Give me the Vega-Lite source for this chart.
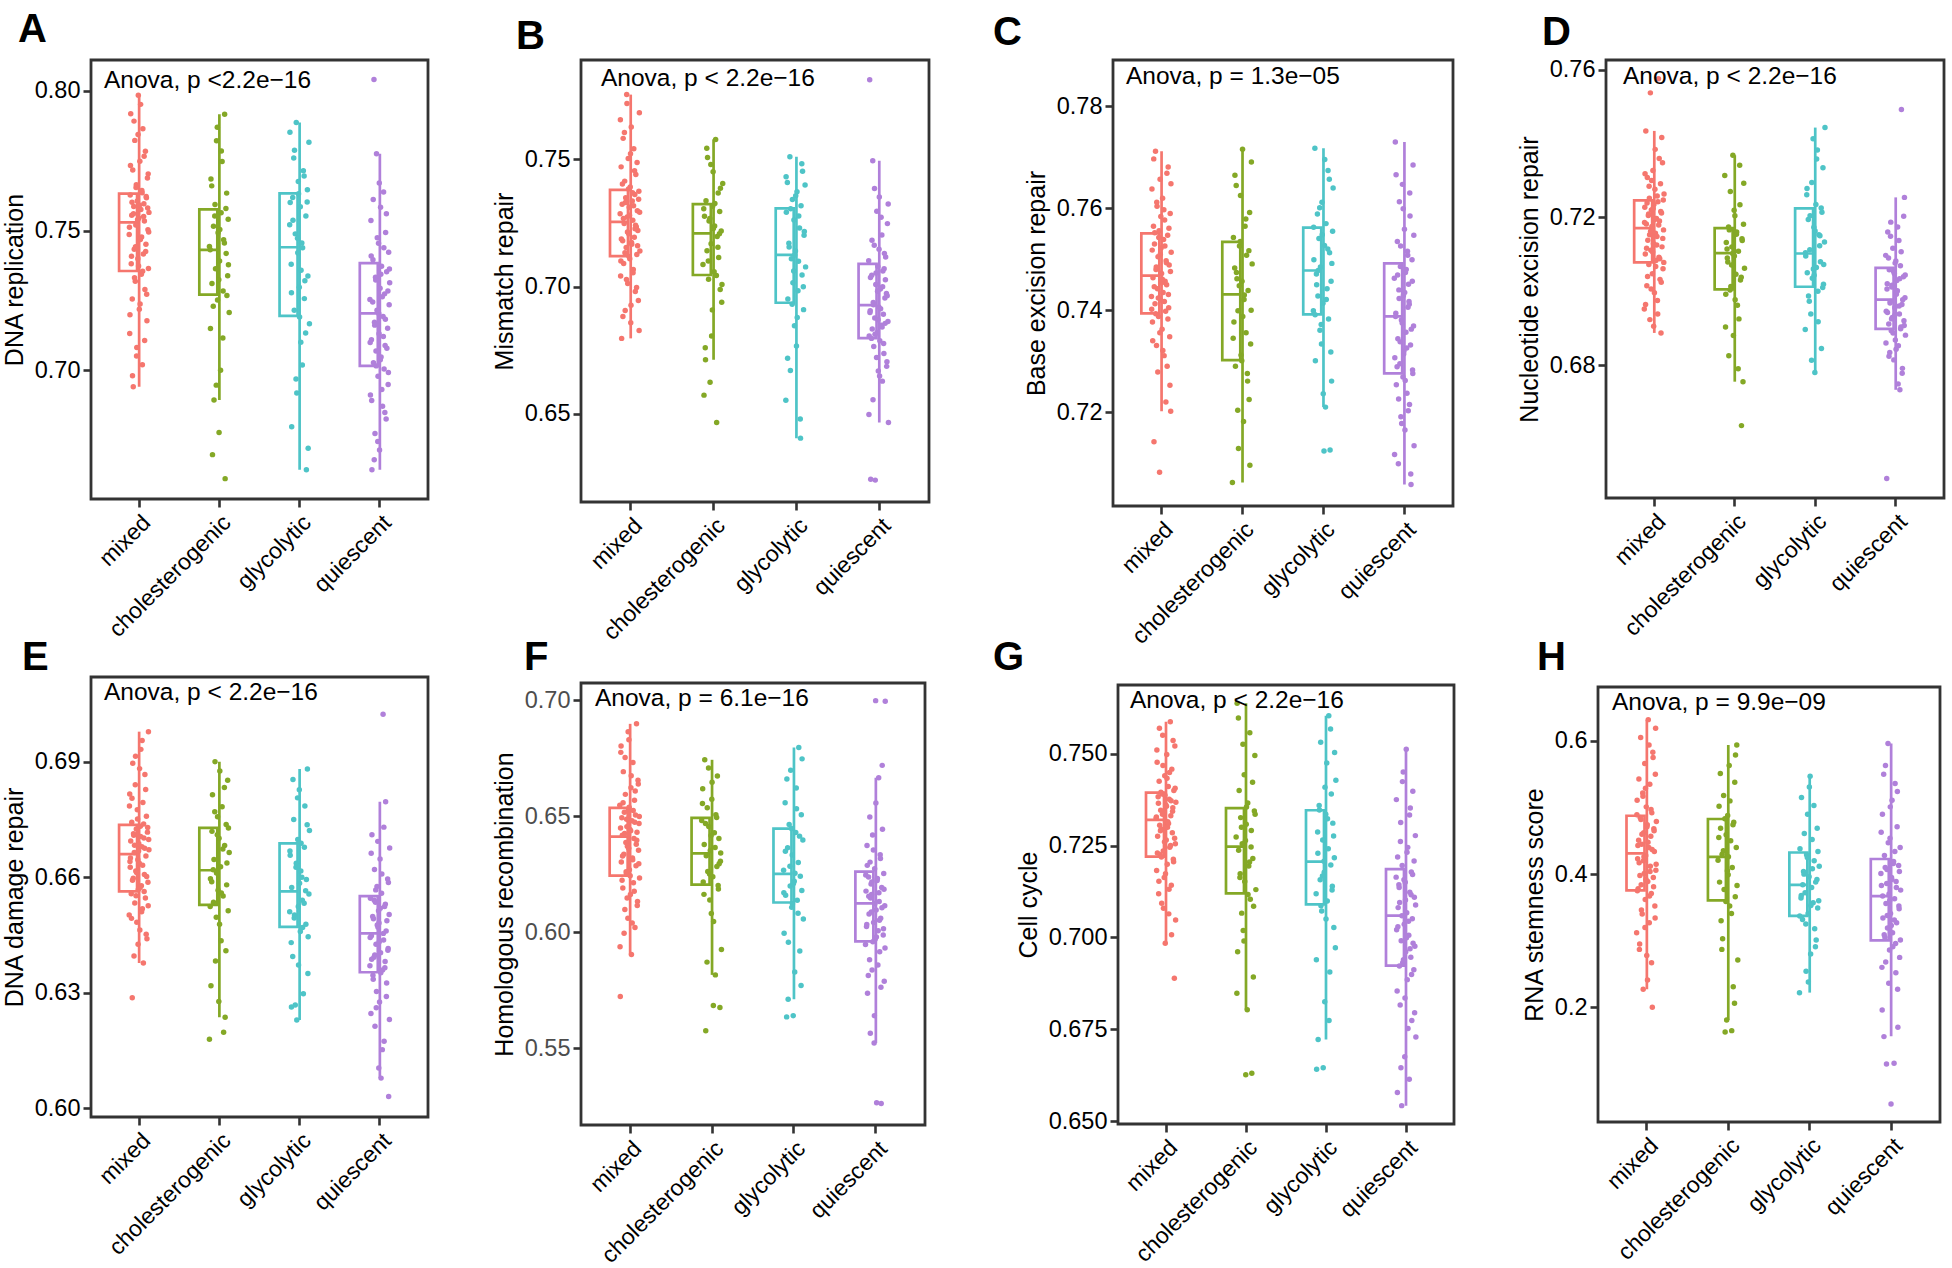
{
"$schema":"https://vega.github.io/schema/vega-lite/v6.json",
"padding":{"left":0,"top":8,"right":4,"bottom":3},
"datasets":{
"b":[
{"p":"A","g":"mixed","lo":0.694,"q1":0.7355,"med":0.7529,"q3":0.7632,"hi":0.7985},
{"p":"A","g":"cholesterogenic","lo":0.6893,"q1":0.727,"med":0.7431,"q3":0.7576,"hi":0.7917},
{"p":"A","g":"glycolytic","lo":0.6643,"q1":0.7194,"med":0.744,"q3":0.7633,"hi":0.7887},
{"p":"A","g":"quiescent","lo":0.6643,"q1":0.7015,"med":0.7203,"q3":0.7383,"hi":0.7775},
{"p":"B","g":"mixed","lo":0.6797,"q1":0.712,"med":0.7255,"q3":0.7381,"hi":0.7755},
{"p":"B","g":"cholesterogenic","lo":0.6713,"q1":0.7046,"med":0.721,"q3":0.7325,"hi":0.7579},
{"p":"B","g":"glycolytic","lo":0.6405,"q1":0.6937,"med":0.7125,"q3":0.7308,"hi":0.7511},
{"p":"B","g":"quiescent","lo":0.6466,"q1":0.6798,"med":0.6928,"q3":0.709,"hi":0.7495},
{"p":"C","g":"mixed","lo":0.7202,"q1":0.7394,"med":0.7468,"q3":0.7551,"hi":0.7712},
{"p":"C","g":"cholesterogenic","lo":0.7062,"q1":0.7302,"med":0.7431,"q3":0.7534,"hi":0.7716},
{"p":"C","g":"glycolytic","lo":0.721,"q1":0.7392,"med":0.7478,"q3":0.7562,"hi":0.7718},
{"p":"C","g":"quiescent","lo":0.7058,"q1":0.7276,"med":0.7388,"q3":0.7492,"hi":0.773},
{"p":"D","g":"mixed","lo":0.6887,"q1":0.7078,"med":0.7171,"q3":0.7246,"hi":0.7434},
{"p":"D","g":"cholesterogenic","lo":0.6755,"q1":0.7005,"med":0.7103,"q3":0.7171,"hi":0.7368},
{"p":"D","g":"glycolytic","lo":0.678,"q1":0.7012,"med":0.7102,"q3":0.7224,"hi":0.7443},
{"p":"D","g":"quiescent","lo":0.6733,"q1":0.6898,"med":0.6977,"q3":0.7063,"hi":0.7254},
{"p":"E","g":"mixed","lo":0.6377,"q1":0.6563,"med":0.666,"q3":0.6736,"hi":0.6978},
{"p":"E","g":"cholesterogenic","lo":0.6236,"q1":0.6528,"med":0.6618,"q3":0.6728,"hi":0.69},
{"p":"E","g":"glycolytic","lo":0.6229,"q1":0.6471,"med":0.6563,"q3":0.6688,"hi":0.6881},
{"p":"E","g":"quiescent","lo":0.6078,"q1":0.6353,"med":0.6454,"q3":0.6551,"hi":0.6796},
{"p":"F","g":"mixed","lo":0.5904,"q1":0.6244,"med":0.6412,"q3":0.6536,"hi":0.6898},
{"p":"F","g":"cholesterogenic","lo":0.5816,"q1":0.6205,"med":0.634,"q3":0.6493,"hi":0.6743},
{"p":"F","g":"glycolytic","lo":0.5711,"q1":0.6128,"med":0.6251,"q3":0.6446,"hi":0.6796},
{"p":"F","g":"quiescent","lo":0.5522,"q1":0.596,"med":0.6124,"q3":0.6261,"hi":0.6666},
{"p":"G","g":"mixed","lo":0.6984,"q1":0.722,"med":0.732,"q3":0.7394,"hi":0.7587},
{"p":"G","g":"cholesterogenic","lo":0.6803,"q1":0.712,"med":0.7247,"q3":0.7352,"hi":0.7637},
{"p":"G","g":"glycolytic","lo":0.6722,"q1":0.709,"med":0.7206,"q3":0.7346,"hi":0.7603},
{"p":"G","g":"quiescent","lo":0.6542,"q1":0.6923,"med":0.7059,"q3":0.7186,"hi":0.7512},
{"p":"H","g":"mixed","lo":0.227,"q1":0.3755,"med":0.4313,"q3":0.4877,"hi":0.6319},
{"p":"H","g":"cholesterogenic","lo":0.181,"q1":0.3607,"med":0.4258,"q3":0.4828,"hi":0.5939},
{"p":"H","g":"glycolytic","lo":0.2221,"q1":0.3374,"med":0.384,"q3":0.4325,"hi":0.5472},
{"p":"H","g":"quiescent","lo":0.1564,"q1":0.3006,"med":0.3669,"q3":0.4227,"hi":0.5963}
],
"s":[
{"g":"mixed","r":1,"A":0.7486,"B":0.7287,"C":0.7427,"D":0.6952,"E":0.6502,"F":0.6547,"G":0.7324,"H":0.312},
{"g":"mixed","r":2,"A":0.7131,"B":0.7042,"C":0.7638,"D":0.7227,"E":0.6816,"F":0.5723,"G":0.7182,"H":0.511},
{"g":"mixed","r":3,"A":0.7627,"B":0.7471,"C":0.7377,"D":0.7101,"E":0.6626,"F":0.6775,"G":0.7477,"H":0.423},
{"g":"mixed","r":4,"A":0.7918,"B":0.6797,"C":0.7464,"D":0.7434,"E":0.6694,"F":0.6303,"G":0.7275,"H":0.378},
{"g":"mixed","r":5,"A":0.7381,"B":0.7324,"C":0.7565,"D":0.7182,"E":0.6557,"F":0.6493,"G":0.7383,"H":0.451},
{"g":"mixed","r":6,"A":0.7555,"B":0.7181,"C":0.7142,"D":0.7015,"E":0.6743,"F":0.6418,"G":0.7119,"H":0.417},
{"g":"mixed","r":7,"A":0.7255,"B":0.7583,"C":0.753,"D":0.7308,"E":0.6287,"F":0.619,"G":0.7425,"H":0.295},
{"g":"mixed","r":8,"A":0.7717,"B":0.7091,"C":0.7413,"D":0.7138,"E":0.6896,"F":0.6692,"G":0.7305,"H":0.485},
{"g":"mixed","r":9,"A":0.694,"B":0.7248,"C":0.7712,"D":0.7205,"E":0.6597,"F":0.6336,"G":0.7225,"H":0.605},
{"g":"mixed","r":10,"A":0.7586,"B":0.7415,"C":0.748,"D":0.7072,"E":0.6709,"F":0.6517,"G":0.7346,"H":0.384},
{"g":"mixed","r":11,"A":0.7433,"B":0.6907,"C":0.7331,"D":0.7252,"E":0.6664,"F":0.6098,"G":0.7295,"H":0.445},
{"g":"mixed","r":12,"A":0.7823,"B":0.735,"C":0.7604,"D":0.6923,"E":0.6533,"F":0.6594,"G":0.7093,"H":0.34},
{"g":"mixed","r":13,"A":0.7318,"B":0.7154,"C":0.7442,"D":0.7537,"E":0.684,"F":0.6387,"G":0.739,"H":0.522},
{"g":"mixed","r":14,"A":0.752,"B":0.7755,"C":0.7505,"D":0.7111,"E":0.6616,"F":0.6252,"G":0.755,"H":0.227},
{"g":"mixed","r":15,"A":0.7664,"B":0.7274,"C":0.7388,"D":0.722,"E":0.6725,"F":0.6455,"G":0.7235,"H":0.462},
{"g":"mixed","r":16,"A":0.7081,"B":0.7013,"C":0.7556,"D":0.7175,"E":0.6483,"F":0.637,"G":0.7339,"H":0.401},
{"g":"mixed","r":17,"A":0.7606,"B":0.7504,"C":0.7082,"D":0.7047,"E":0.6775,"F":0.606,"G":0.7163,"H":0.566},
{"g":"mixed","r":18,"A":0.7399,"B":0.7208,"C":0.7657,"D":0.7327,"E":0.6645,"F":0.653,"G":0.744,"H":0.362},
{"g":"mixed","r":19,"A":0.7985,"B":0.7312,"C":0.742,"D":0.7129,"E":0.6568,"F":0.6829,"G":0.6984,"H":0.428},
{"g":"mixed","r":20,"A":0.7544,"B":0.711,"C":0.7522,"D":0.7235,"E":0.6687,"F":0.6269,"G":0.7361,"H":0.501},
{"g":"mixed","r":21,"A":0.7218,"B":0.7392,"C":0.7472,"D":0.6996,"E":0.6636,"F":0.6443,"G":0.7265,"H":0.278},
{"g":"mixed","r":22,"A":0.7748,"B":0.6858,"C":0.7363,"D":0.7276,"E":0.6463,"F":0.6162,"G":0.7498,"H":0.474},
{"g":"mixed","r":23,"A":0.7468,"B":0.7628,"C":0.762,"D":0.7157,"E":0.6732,"F":0.6623,"G":0.7199,"H":0.389},
{"g":"mixed","r":24,"A":0.7575,"B":0.7167,"C":0.7435,"D":0.7083,"E":0.6932,"F":0.5904,"G":0.7315,"H":0.632},
{"g":"mixed","r":25,"A":0.7343,"B":0.7337,"C":0.7539,"D":0.7197,"E":0.6578,"F":0.648,"G":0.7411,"H":0.44},
{"g":"mixed","r":26,"A":0.7643,"B":0.7261,"C":0.7311,"D":0.7148,"E":0.6679,"F":0.632,"G":0.7064,"H":0.327},
{"g":"mixed","r":27,"A":0.7019,"B":0.7068,"C":0.7577,"D":0.6975,"E":0.6518,"F":0.6731,"G":0.7376,"H":0.535},
{"g":"mixed","r":28,"A":0.7865,"B":0.7542,"C":0.7457,"D":0.7242,"E":0.6794,"F":0.6213,"G":0.7245,"H":0.412},
{"g":"mixed","r":29,"A":0.7416,"B":0.7194,"C":0.7398,"D":0.7575,"E":0.6377,"F":0.6404,"G":0.7587,"H":0.457},
{"g":"mixed","r":30,"A":0.7596,"B":0.7362,"C":0.7497,"D":0.7092,"E":0.6702,"F":0.6569,"G":0.7331,"H":0.371},
{"g":"mixed","r":31,"A":0.7534,"B":0.6981,"C":0.745,"D":0.719,"E":0.6607,"F":0.602,"G":0.7142,"H":0.492},
{"g":"mixed","r":32,"A":0.7289,"B":0.7441,"C":0.729,"D":0.7032,"E":0.6867,"F":0.6505,"G":0.7458,"H":0.2},
{"g":"mixed","r":33,"A":0.7784,"B":0.7235,"C":0.7547,"D":0.7291,"E":0.6546,"F":0.6286,"G":0.7285,"H":0.583},
{"g":"mixed","r":34,"A":0.7451,"B":0.7127,"C":0.7681,"D":0.6887,"E":0.6655,"F":0.6898,"G":0.7353,"H":0.395},
{"g":"mixed","r":35,"A":0.7617,"B":0.7299,"C":0.7405,"D":0.7212,"E":0.6758,"F":0.6431,"G":0.7213,"H":0.468},
{"g":"mixed","r":36,"A":0.7177,"B":0.7221,"C":0.7489,"D":0.712,"E":0.644,"F":0.6132,"G":0.74,"H":0.434},
{"g":"mixed","r":37,"A":0.7688,"B":0.6946,"C":0.7348,"D":0.7348,"E":0.6717,"F":0.6655,"G":0.6889,"H":0.352},
{"g":"mixed","r":38,"A":0.7503,"B":0.7375,"C":0.759,"D":0.7061,"E":0.6587,"F":0.6353,"G":0.7521,"H":0.55},
{"g":"mixed","r":39,"A":0.7364,"B":0.7684,"C":0.7202,"D":0.7166,"E":0.6978,"F":0.6468,"G":0.7255,"H":0.406},
{"g":"mixed","r":40,"A":0.7565,"B":0.714,"C":0.7514,"D":0.7263,"E":0.6671,"F":0.6234,"G":0.7368,"H":0.479},
{"g":"mixed","r":1.5,"A":0.7512,"B":0.7656,"C":0.7402,"D":0.7186,"E":0.6785,"F":0.5937,"G":0.7328,"H":0.489},
{"g":"mixed","r":2.5,"A":0.7198,"B":0.7101,"C":0.7518,"D":0.7318,"E":0.6641,"F":0.6449,"G":0.751,"H":0.375},
{"g":"mixed","r":3.5,"A":0.7733,"B":0.7188,"C":0.734,"D":0.6964,"E":0.665,"F":0.6802,"G":0.723,"H":0.443},
{"g":"mixed","r":5.5,"A":0.7408,"B":0.7404,"C":0.7697,"D":0.7116,"E":0.6493,"F":0.6224,"G":0.7365,"H":0.543},
{"g":"mixed","r":6.5,"A":0.7601,"B":0.6883,"C":0.7446,"D":0.7239,"E":0.6805,"F":0.6328,"G":0.7153,"H":0.287},
{"g":"mixed","r":7.5,"A":0.698,"B":0.7268,"C":0.7552,"D":0.704,"E":0.6592,"F":0.6558,"G":0.7569,"H":0.398},
{"g":"mixed","r":9.5,"A":0.756,"B":0.7606,"C":0.7393,"D":0.7209,"E":0.6713,"F":0.5995,"G":0.729,"H":0.482},
{"g":"mixed","r":10.5,"A":0.7892,"B":0.7134,"C":0.7485,"D":0.7284,"E":0.6395,"F":0.6425,"G":0.7395,"H":0.346},
{"g":"mixed","r":11.5,"A":0.7331,"B":0.7331,"C":0.7612,"D":0.7153,"E":0.6683,"F":0.6753,"G":0.7219,"H":0.46},
{"g":"mixed","r":13.5,"A":0.7442,"B":0.7028,"C":0.7279,"D":0.7162,"E":0.6914,"F":0.6261,"G":0.7335,"H":0.517},
{"g":"mixed","r":14.5,"A":0.7654,"B":0.772,"C":0.7424,"D":0.7006,"E":0.6552,"F":0.6487,"G":0.7468,"H":0.42},
{"g":"mixed","r":15.5,"A":0.705,"B":0.7215,"C":0.7543,"D":0.73,"E":0.6612,"F":0.6147,"G":0.7079,"H":0.426},
{"g":"mixed","r":17.5,"A":0.7539,"B":0.7384,"C":0.7356,"D":0.7106,"E":0.6751,"F":0.6864,"G":0.726,"H":0.32},
{"g":"mixed","r":18.5,"A":0.7844,"B":0.7119,"C":0.751,"D":0.7224,"E":0.6426,"F":0.6362,"G":0.7387,"H":0.529},
{"g":"mixed","r":19.5,"A":0.7373,"B":0.7281,"C":0.7584,"D":0.6905,"E":0.6668,"F":0.6539,"G":0.7173,"H":0.392},
{"g":"mixed","r":21.5,"A":0.7591,"B":0.7523,"C":0.7454,"D":0.7194,"E":0.6882,"F":0.6243,"G":0.7357,"H":0.471},
{"g":"mixed","r":22.5,"A":0.7237,"B":0.6927,"C":0.7461,"D":0.7384,"E":0.6573,"F":0.6437,"G":0.7433,"H":0.241},
{"g":"mixed","r":23.5,"A":0.7952,"B":0.7174,"C":0.7321,"D":0.7067,"E":0.6706,"F":0.6674,"G":0.73,"H":0.448},
{"g":"mixed","r":25.5,"A":0.7477,"B":0.7369,"C":0.7597,"D":0.7125,"E":0.651,"F":0.604,"G":0.731,"H":0.594},
{"g":"mixed","r":26.5,"A":0.7635,"B":0.7055,"C":0.7417,"D":0.7258,"E":0.6955,"F":0.6312,"G":0.7131,"H":0.367},
{"g":"mixed","r":27.5,"A":0.7354,"B":0.7318,"C":0.7526,"D":0.6938,"E":0.6631,"F":0.6524,"G":0.7449,"H":0.404},
{"g":"mixed","r":29.5,"A":0.755,"B":0.7456,"C":0.722,"D":0.7179,"E":0.6738,"F":0.6176,"G":0.725,"H":0.497},
{"g":"mixed","r":30.5,"A":0.7766,"B":0.7228,"C":0.7493,"D":0.7359,"E":0.6563,"F":0.6474,"G":0.7372,"H":0.267},
{"g":"mixed","r":31.5,"A":0.7106,"B":0.7242,"C":0.7669,"D":0.7088,"E":0.6675,"F":0.6609,"G":0.7007,"H":0.437},
{"g":"mixed","r":33.5,"A":0.7425,"B":0.6997,"C":0.7383,"D":0.7216,"E":0.6828,"F":0.6379,"G":0.7343,"H":0.575},
{"g":"mixed","r":34.5,"A":0.7622,"B":0.7488,"C":0.7431,"D":0.7024,"E":0.6452,"F":0.6396,"G":0.7536,"H":0.381},
{"g":"mixed","r":35.5,"A":0.7272,"B":0.7161,"C":0.7561,"D":0.7416,"E":0.6602,"F":0.6115,"G":0.7206,"H":0.465},
{"g":"mixed","r":37.5,"A":0.7581,"B":0.7344,"C":0.7253,"D":0.7143,"E":0.6729,"F":0.6639,"G":0.727,"H":0.334},
{"g":"mixed","r":38.5,"A":0.7703,"B":0.6828,"C":0.7476,"D":0.7247,"E":0.6526,"F":0.6295,"G":0.7406,"H":0.619},
{"g":"mixed","r":39.5,"A":0.7495,"B":0.7293,"C":0.7648,"D":0.7078,"E":0.6698,"F":0.6499,"G":0.7047,"H":0.415},
{"g":"cholesterogenic","r":1,"A":0.7443,"B":0.7087,"C":0.7062,"D":0.7313,"E":0.6179,"F":0.6481,"G":0.7273,"H":0.421},
{"g":"cholesterogenic","r":3,"A":0.7149,"B":0.6574,"C":0.7543,"D":0.6992,"E":0.6596,"F":0.6618,"G":0.7637,"H":0.502},
{"g":"cholesterogenic","r":4,"A":0.7685,"B":0.7277,"C":0.7377,"D":0.7132,"E":0.6318,"F":0.6216,"G":0.6961,"H":0.388},
{"g":"cholesterogenic","r":6,"A":0.731,"B":0.6713,"C":0.7665,"D":0.709,"E":0.6719,"F":0.6378,"G":0.7237,"H":0.469},
{"g":"cholesterogenic","r":7,"A":0.6697,"B":0.7338,"C":0.729,"D":0.7079,"E":0.6814,"F":0.6743,"G":0.74,"H":0.33},
{"g":"cholesterogenic","r":9,"A":0.7515,"B":0.7141,"C":0.7474,"D":0.6825,"E":0.6535,"F":0.5575,"G":0.7173,"H":0.43},
{"g":"cholesterogenic","r":10,"A":0.6893,"B":0.7508,"C":0.7462,"D":0.7166,"E":0.6646,"F":0.6329,"G":0.7326,"H":0.303},
{"g":"cholesterogenic","r":12,"A":0.7593,"B":0.7029,"C":0.7399,"D":0.727,"E":0.69,"F":0.6536,"G":0.7066,"H":0.518},
{"g":"cholesterogenic","r":13,"A":0.7363,"B":0.7258,"C":0.7129,"D":0.7013,"E":0.6382,"F":0.6262,"G":0.7255,"H":0.377},
{"g":"cholesterogenic","r":15,"A":0.7822,"B":0.6625,"C":0.7526,"D":0.712,"E":0.6611,"F":0.6455,"G":0.7019,"H":0.163},
{"g":"cholesterogenic","r":17,"A":0.7251,"B":0.7169,"C":0.7625,"D":0.7368,"E":0.6757,"F":0.6139,"G":0.7443,"H":0.459},
{"g":"cholesterogenic","r":18,"A":0.7492,"B":0.6806,"C":0.7312,"D":0.688,"E":0.6566,"F":0.6352,"G":0.7152,"H":0.181},
{"g":"cholesterogenic","r":20,"A":0.6776,"B":0.7316,"C":0.7457,"D":0.7095,"E":0.6701,"F":0.6081,"G":0.6626,"H":0.488},
{"g":"cholesterogenic","r":21,"A":0.7391,"B":0.7452,"C":0.7716,"D":0.7204,"E":0.6478,"F":0.6573,"G":0.7308,"H":0.399},
{"g":"cholesterogenic","r":23,"A":0.6999,"B":0.7059,"C":0.7182,"D":0.7046,"E":0.6627,"F":0.6239,"G":0.6803,"H":0.563},
{"g":"cholesterogenic","r":24,"A":0.7564,"B":0.7239,"C":0.7421,"D":0.7154,"E":0.6435,"F":0.5684,"G":0.7366,"H":0.352},
{"g":"cholesterogenic","r":26,"A":0.7747,"B":0.7579,"C":0.7565,"D":0.6962,"E":0.6783,"F":0.6429,"G":0.7194,"H":0.45},
{"g":"cholesterogenic","r":28,"A":0.7283,"B":0.6466,"C":0.7356,"D":0.7108,"E":0.6551,"F":0.5816,"G":0.7557,"H":0.165},
{"g":"cholesterogenic","r":29,"A":0.7467,"B":0.7197,"C":0.7508,"D":0.6925,"E":0.6197,"F":0.6506,"G":0.7104,"H":0.41},
{"g":"cholesterogenic","r":31,"A":0.7917,"B":0.7368,"C":0.7261,"D":0.7234,"E":0.6682,"F":0.6283,"G":0.7291,"H":0.231},
{"g":"cholesterogenic","r":32,"A":0.6611,"B":0.7115,"C":0.7439,"D":0.703,"E":0.6236,"F":0.6673,"G":0.663,"H":0.478},
{"g":"cholesterogenic","r":34,"A":0.7418,"B":0.7296,"C":0.7225,"D":0.6636,"E":0.6737,"F":0.6186,"G":0.7215,"H":0.538},
{"g":"cholesterogenic","r":35,"A":0.7634,"B":0.6989,"C":0.7592,"D":0.7142,"E":0.658,"F":0.6404,"G":0.6892,"H":0.366},
{"g":"cholesterogenic","r":37,"A":0.7338,"B":0.7219,"C":0.7334,"D":0.6755,"E":0.6852,"F":0.5675,"G":0.7344,"H":0.44},
{"g":"cholesterogenic","r":38,"A":0.754,"B":0.6939,"C":0.74,"D":0.7181,"E":0.6513,"F":0.6306,"G":0.7495,"H":0.594},
{"g":"cholesterogenic","r":40,"A":0.7206,"B":0.7406,"C":0.7491,"D":0.7062,"E":0.6664,"F":0.5925,"G":0.713,"H":0.271},
{"g":"cholesterogenic","r":2.5,"A":0.7431,"B":0.7306,"C":0.7345,"D":0.6903,"E":0.6524,"F":0.6555,"G":0.6848,"H":0.455},
{"g":"cholesterogenic","r":5.5,"A":0.766,"B":0.676,"C":0.7483,"D":0.7114,"E":0.6588,"F":0.6163,"G":0.7597,"H":0.551},
{"g":"cholesterogenic","r":8.5,"A":0.7229,"B":0.7544,"C":0.7645,"D":0.7174,"E":0.6619,"F":0.6468,"G":0.7163,"H":0.287},
{"g":"cholesterogenic","r":11.5,"A":0.7552,"B":0.7101,"C":0.7204,"D":0.7003,"E":0.677,"F":0.5871,"G":0.73,"H":0.435},
{"g":"cholesterogenic","r":14.5,"A":0.6946,"B":0.7268,"C":0.7448,"D":0.7071,"E":0.6496,"F":0.6708,"G":0.7526,"H":0.483},
{"g":"cholesterogenic","r":16.5,"A":0.787,"B":0.748,"C":0.7535,"D":0.7102,"E":0.671,"F":0.6251,"G":0.699,"H":0.359},
{"g":"cholesterogenic","r":19.5,"A":0.7324,"B":0.6909,"C":0.7301,"D":0.7219,"E":0.6277,"F":0.6417,"G":0.7264,"H":0.405},
{"g":"cholesterogenic","r":21.5,"A":0.7504,"B":0.7229,"C":0.7388,"D":0.6977,"E":0.6876,"F":0.6646,"G":0.7355,"H":0.426},
{"g":"cholesterogenic","r":24.5,"A":0.7785,"B":0.7327,"C":0.743,"D":0.716,"E":0.6559,"F":0.6046,"G":0.7117,"H":0.51},
{"g":"cholesterogenic","r":27.5,"A":0.7115,"B":0.7044,"C":0.7579,"D":0.679,"E":0.6673,"F":0.6365,"G":0.7205,"H":0.341},
{"g":"cholesterogenic","r":30.5,"A":0.7455,"B":0.7155,"C":0.7276,"D":0.7341,"E":0.6833,"F":0.6494,"G":0.7246,"H":0.474},
{"g":"cholesterogenic","r":33.5,"A":0.7579,"B":0.7208,"C":0.7517,"D":0.7038,"E":0.6409,"F":0.6201,"G":0.7422,"H":0.206},
{"g":"cholesterogenic","r":35.5,"A":0.7267,"B":0.7387,"C":0.7096,"D":0.7137,"E":0.6637,"F":0.6295,"G":0.7085,"H":0.579},
{"g":"cholesterogenic","r":38.5,"A":0.7377,"B":0.7009,"C":0.7691,"D":0.7292,"E":0.6728,"F":0.6341,"G":0.7335,"H":0.383},
{"g":"glycolytic","r":1,"A":0.7521,"B":0.6554,"C":0.7399,"D":0.6896,"E":0.651,"F":0.6267,"G":0.7119,"H":0.222},
{"g":"glycolytic","r":2,"A":0.76,"B":0.7293,"C":0.7499,"D":0.7095,"E":0.6657,"F":0.5995,"G":0.6641,"H":0.438},
{"g":"glycolytic","r":4,"A":0.7379,"B":0.741,"C":0.7718,"D":0.7261,"E":0.643,"F":0.6558,"G":0.7287,"H":0.364},
{"g":"glycolytic","r":5,"A":0.6797,"B":0.6952,"C":0.7301,"D":0.705,"E":0.6573,"F":0.6159,"G":0.6722,"H":0.515},
{"g":"glycolytic","r":7,"A":0.7618,"B":0.7171,"C":0.7471,"D":0.7194,"E":0.6394,"F":0.5635,"G":0.7359,"H":0.332},
{"g":"glycolytic","r":9,"A":0.776,"B":0.7511,"C":0.7589,"D":0.6973,"E":0.675,"F":0.6364,"G":0.7157,"H":0.404},
{"g":"glycolytic","r":10,"A":0.7214,"B":0.6671,"C":0.7428,"D":0.7112,"E":0.6494,"F":0.5711,"G":0.7531,"H":0.4},
{"g":"glycolytic","r":12,"A":0.7488,"B":0.711,"C":0.7541,"D":0.6938,"E":0.6268,"F":0.6464,"G":0.7072,"H":0.372},
{"g":"glycolytic","r":14,"A":0.7887,"B":0.7343,"C":0.7361,"D":0.7294,"E":0.6636,"F":0.6199,"G":0.7265,"H":0.254},
{"g":"glycolytic","r":15,"A":0.6918,"B":0.7016,"C":0.7485,"D":0.7035,"E":0.6229,"F":0.6698,"G":0.6645,"H":0.429},
{"g":"glycolytic","r":17,"A":0.742,"B":0.7262,"C":0.7334,"D":0.706,"E":0.6698,"F":0.6107,"G":0.7177,"H":0.49},
{"g":"glycolytic","r":18,"A":0.7676,"B":0.6847,"C":0.7612,"D":0.7173,"E":0.6524,"F":0.6333,"G":0.6825,"H":0.341},
{"g":"glycolytic","r":20,"A":0.7297,"B":0.714,"C":0.7414,"D":0.678,"E":0.6827,"F":0.564,"G":0.7335,"H":0.396},
{"g":"glycolytic","r":22,"A":0.7585,"B":0.6767,"C":0.7124,"D":0.7235,"E":0.6459,"F":0.622,"G":0.7475,"H":0.547},
{"g":"glycolytic","r":23,"A":0.71,"B":0.7373,"C":0.7527,"D":0.7064,"E":0.6616,"F":0.5828,"G":0.7099,"H":0.28},
{"g":"glycolytic","r":25,"A":0.7455,"B":0.6984,"C":0.721,"D":0.7382,"E":0.66,"F":0.643,"G":0.7241,"H":0.38},
{"g":"glycolytic","r":26,"A":0.7018,"B":0.71,"C":0.757,"D":0.7,"E":0.654,"F":0.6621,"G":0.7603,"H":0.452},
{"g":"glycolytic","r":28,"A":0.7714,"B":0.7231,"C":0.7442,"D":0.7153,"E":0.6297,"F":0.6138,"G":0.6906,"H":0.357},
{"g":"glycolytic","r":30,"A":0.7256,"B":0.6405,"C":0.7674,"D":0.715,"E":0.6678,"F":0.63,"G":0.7197,"H":0.42},
{"g":"glycolytic","r":31,"A":0.732,"B":0.7318,"C":0.7383,"D":0.708,"E":0.6785,"F":0.6796,"G":0.739,"H":0.318},
{"g":"glycolytic","r":33,"A":0.7552,"B":0.7046,"C":0.7513,"D":0.6845,"E":0.6478,"F":0.5919,"G":0.7139,"H":0.388},
{"g":"glycolytic","r":34,"A":0.6643,"B":0.7454,"C":0.7126,"D":0.7214,"E":0.6594,"F":0.6241,"G":0.7311,"H":0.301},
{"g":"glycolytic","r":36,"A":0.7646,"B":0.691,"C":0.7457,"D":0.7334,"E":0.6881,"F":0.6506,"G":0.7027,"H":0.469},
{"g":"glycolytic","r":37,"A":0.7337,"B":0.7202,"C":0.7261,"D":0.7019,"E":0.635,"F":0.618,"G":0.7217,"H":0.349},
{"g":"glycolytic","r":39,"A":0.7816,"B":0.74,"C":0.7555,"D":0.7133,"E":0.6556,"F":0.6397,"G":0.6972,"H":0.36},
{"g":"glycolytic","r":40,"A":0.7166,"B":0.7078,"C":0.764,"D":0.7443,"E":0.6721,"F":0.6057,"G":0.7428,"H":0.412},
{"g":"glycolytic","r":1.5,"A":0.7852,"B":0.7432,"C":0.7563,"D":0.7104,"E":0.6668,"F":0.617,"G":0.6939,"H":0.337},
{"g":"glycolytic","r":4.5,"A":0.7277,"B":0.6719,"C":0.7391,"D":0.7278,"E":0.6263,"F":0.6349,"G":0.7229,"H":0.368},
{"g":"glycolytic","r":7.5,"A":0.7537,"B":0.7156,"C":0.745,"D":0.6987,"E":0.6854,"F":0.666,"G":0.7347,"H":0.384},
{"g":"glycolytic","r":10.5,"A":0.7788,"B":0.7306,"C":0.7478,"D":0.7204,"E":0.6502,"F":0.5957,"G":0.7086,"H":0.461},
{"g":"glycolytic","r":13.5,"A":0.6968,"B":0.6931,"C":0.7601,"D":0.6813,"E":0.6626,"F":0.6284,"G":0.7167,"H":0.325},
{"g":"glycolytic","r":16.5,"A":0.7472,"B":0.7062,"C":0.7372,"D":0.7413,"E":0.6806,"F":0.6447,"G":0.7207,"H":0.425},
{"g":"glycolytic","r":18.5,"A":0.7632,"B":0.7125,"C":0.7548,"D":0.7043,"E":0.6372,"F":0.6123,"G":0.7409,"H":0.238},
{"g":"glycolytic","r":20.5,"A":0.719,"B":0.7358,"C":0.7236,"D":0.7163,"E":0.6584,"F":0.621,"G":0.705,"H":0.531},
{"g":"glycolytic","r":23.5,"A":0.7358,"B":0.6879,"C":0.7696,"D":0.7358,"E":0.6688,"F":0.6254,"G":0.7323,"H":0.353},
{"g":"glycolytic","r":26.5,"A":0.7438,"B":0.7278,"C":0.7421,"D":0.6917,"E":0.6469,"F":0.6532,"G":0.6774,"H":0.408},
{"g":"glycolytic","r":29.5,"A":0.7695,"B":0.648,"C":0.752,"D":0.7123,"E":0.6532,"F":0.6082,"G":0.7567,"H":0.503},
{"g":"glycolytic","r":32.5,"A":0.7133,"B":0.7483,"C":0.7657,"D":0.7225,"E":0.6565,"F":0.6414,"G":0.7129,"H":0.291},
{"g":"glycolytic","r":35.5,"A":0.7602,"B":0.7,"C":0.7318,"D":0.701,"E":0.6736,"F":0.577,"G":0.7276,"H":0.392},
{"g":"glycolytic","r":37.5,"A":0.672,"B":0.7217,"C":0.7492,"D":0.7072,"E":0.6445,"F":0.6747,"G":0.7503,"H":0.434},
{"g":"quiescent","r":1,"A":0.7253,"B":0.7102,"C":0.7463,"D":0.7097,"E":0.637,"F":0.5947,"G":0.7164,"H":0.401},
{"g":"quiescent","r":2,"A":0.6911,"B":0.6806,"C":0.7307,"D":0.6946,"E":0.6545,"F":0.6177,"G":0.7021,"H":0.383},
{"g":"quiescent","r":3,"A":0.7536,"B":0.7813,"C":0.773,"D":0.6493,"E":0.6246,"F":0.6024,"G":0.6854,"H":0.26},
{"g":"quiescent","r":4,"A":0.7109,"B":0.6906,"C":0.7394,"D":0.702,"E":0.6448,"F":0.6374,"G":0.7219,"H":0.49},
{"g":"quiescent","r":5,"A":0.6643,"B":0.6243,"C":0.7254,"D":0.716,"E":0.671,"F":0.5737,"G":0.7081,"H":0.334},
{"g":"quiescent","r":7,"A":0.7395,"B":0.7045,"C":0.7535,"D":0.6911,"E":0.6345,"F":0.6238,"G":0.7136,"H":0.156},
{"g":"quiescent","r":8,"A":0.7026,"B":0.6834,"C":0.7344,"D":0.7058,"E":0.6492,"F":0.6078,"G":0.7095,"H":0.428},
{"g":"quiescent","r":9,"A":0.8041,"B":0.7495,"C":0.7099,"D":0.6834,"E":0.6392,"F":0.5881,"G":0.6816,"H":0.305},
{"g":"quiescent","r":10,"A":0.7171,"B":0.6938,"C":0.744,"D":0.6972,"E":0.662,"F":0.6302,"G":0.7313,"H":0.563},
{"g":"quiescent","r":11,"A":0.6773,"B":0.6765,"C":0.7613,"D":0.7187,"E":0.6213,"F":0.6147,"G":0.6991,"H":0.356},
{"g":"quiescent","r":12,"A":0.7333,"B":0.7163,"C":0.7295,"D":0.6893,"E":0.6535,"F":0.6208,"G":0.6542,"H":0.115},
{"g":"quiescent","r":13,"A":0.7068,"B":0.6877,"C":0.7486,"D":0.7011,"E":0.6426,"F":0.6162,"G":0.7196,"H":0.407},
{"g":"quiescent","r":14,"A":0.7775,"B":0.624,"C":0.7191,"D":0.6929,"E":0.6303,"F":0.5837,"G":0.6931,"H":0.319},
{"g":"quiescent","r":15,"A":0.7214,"B":0.7009,"C":0.7381,"D":0.7116,"E":0.6576,"F":0.6419,"G":0.745,"H":0.596},
{"g":"quiescent","r":17,"A":0.6978,"B":0.7297,"C":0.7647,"D":0.6814,"E":0.647,"F":0.6042,"G":0.7036,"H":0.37},
{"g":"quiescent","r":18,"A":0.7454,"B":0.682,"C":0.7269,"D":0.7048,"E":0.6513,"F":0.5522,"G":0.6675,"H":0.286},
{"g":"quiescent","r":19,"A":0.713,"B":0.708,"C":0.7429,"D":0.6955,"E":0.6481,"F":0.6273,"G":0.715,"H":0.454},
{"g":"quiescent","r":20,"A":0.6714,"B":0.6669,"C":0.732,"D":0.6868,"E":0.6276,"F":0.597,"G":0.6961,"H":0.341},
{"g":"quiescent","r":21,"A":0.7293,"B":0.692,"C":0.7559,"D":0.7082,"E":0.6647,"F":0.6998,"G":0.7512,"H":0.055},
{"g":"quiescent","r":22,"A":0.7583,"B":0.7353,"C":0.7165,"D":0.6992,"E":0.6404,"F":0.6096,"G":0.7067,"H":0.395},
{"g":"quiescent","r":23,"A":0.7047,"B":0.6788,"C":0.7474,"D":0.7029,"E":0.6078,"F":0.5265,"G":0.6885,"H":0.511},
{"g":"quiescent","r":24,"A":0.7372,"B":0.6991,"C":0.7357,"D":0.7001,"E":0.6558,"F":0.6223,"G":0.7245,"H":0.312},
{"g":"quiescent","r":26,"A":0.687,"B":0.6849,"C":0.7237,"D":0.6852,"E":0.6359,"F":0.6006,"G":0.7006,"H":0.419},
{"g":"quiescent","r":27,"A":0.7192,"B":0.7203,"C":0.7516,"D":0.7137,"E":0.7023,"F":0.6666,"G":0.6614,"H":0.116},
{"g":"quiescent","r":28,"A":0.7638,"B":0.6629,"C":0.7406,"D":0.6938,"E":0.6437,"F":0.6132,"G":0.7123,"H":0.363},
{"g":"quiescent","r":29,"A":0.7004,"B":0.7062,"C":0.7451,"D":0.6733,"E":0.6174,"F":0.5916,"G":0.7352,"H":0.536},
{"g":"quiescent","r":30,"A":0.7273,"B":0.6892,"C":0.7417,"D":0.7069,"E":0.6524,"F":0.6334,"G":0.6946,"H":0.296},
{"g":"quiescent","r":31,"A":0.7088,"B":0.6738,"C":0.7215,"D":0.6903,"E":0.6381,"F":0.606,"G":0.7178,"H":0.389},
{"g":"quiescent","r":32,"A":0.7493,"B":0.7131,"C":0.7585,"D":0.7492,"E":0.6796,"F":0.5262,"G":0.6774,"H":0.327},
{"g":"quiescent","r":33,"A":0.6825,"B":0.6956,"C":0.7332,"D":0.6964,"E":0.646,"F":0.6193,"G":0.7051,"H":0.471},
{"g":"quiescent","r":34,"A":0.7352,"B":0.7027,"C":0.7058,"D":0.6791,"E":0.6325,"F":0.6719,"G":0.7398,"H":0.227},
{"g":"quiescent","r":36,"A":0.715,"B":0.6973,"C":0.7499,"D":0.7039,"E":0.6595,"F":0.5988,"G":0.6912,"H":0.413},
{"g":"quiescent","r":37,"A":0.6948,"B":0.6705,"C":0.7283,"D":0.692,"E":0.6415,"F":0.6253,"G":0.7109,"H":0.348},
{"g":"quiescent","r":38,"A":0.7422,"B":0.7248,"C":0.7685,"D":0.7254,"E":0.603,"F":0.5789,"G":0.6976,"H":0.275},
{"g":"quiescent","r":39,"A":0.7234,"B":0.6863,"C":0.7369,"D":0.6982,"E":0.6503,"F":0.6114,"G":0.7277,"H":0.44},
{"g":"quiescent","r":40,"A":0.7313,"B":0.6466,"C":0.7134,"D":0.6881,"E":0.6676,"F":0.6995,"G":0.6729,"H":0.376},
{"g":"quiescent","r":1.5,"A":0.7099,"B":0.6498,"C":0.7117,"D":0.686,"E":0.6443,"F":0.6246,"G":0.7375,"H":0.463},
{"g":"quiescent","r":3.5,"A":0.7409,"B":0.6899,"C":0.7388,"D":0.7006,"E":0.6662,"F":0.6033,"G":0.6578,"H":0.196},
{"g":"quiescent","r":4.5,"A":0.6891,"B":0.7036,"C":0.7666,"D":0.6942,"E":0.6387,"F":0.6288,"G":0.7029,"H":0.367},
{"g":"quiescent","r":6.5,"A":0.7244,"B":0.6797,"C":0.7289,"D":0.709,"E":0.6498,"F":0.5813,"G":0.7143,"H":0.55},
{"g":"quiescent","r":7.5,"A":0.7611,"B":0.7183,"C":0.7469,"D":0.6824,"E":0.6335,"F":0.6155,"G":0.6922,"H":0.309},
{"g":"quiescent","r":9.5,"A":0.6679,"B":0.6556,"C":0.7226,"D":0.6968,"E":0.654,"F":0.6496,"G":0.7261,"H":0.41},
{"g":"quiescent","r":10.5,"A":0.7161,"B":0.6929,"C":0.7423,"D":0.7149,"E":0.6398,"F":0.5564,"G":0.6645,"H":0.268},
{"g":"quiescent","r":12.5,"A":0.7323,"B":0.7386,"C":0.7338,"D":0.6925,"E":0.6567,"F":0.6087,"G":0.7059,"H":0.386},
{"g":"quiescent","r":13.5,"A":0.7015,"B":0.6813,"C":0.7526,"D":0.7016,"E":0.6261,"F":0.6216,"G":0.7424,"H":0.338},
{"g":"quiescent","r":15.5,"A":0.7474,"B":0.7054,"C":0.7178,"D":0.6887,"E":0.6476,"F":0.5959,"G":0.6939,"H":0.447},
{"g":"quiescent","r":16.5,"A":0.6744,"B":0.6722,"C":0.7375,"D":0.7053,"E":0.6693,"F":0.6354,"G":0.7157,"H":0.236},
{"g":"quiescent","r":18.5,"A":0.7203,"B":0.6982,"C":0.7599,"D":0.6934,"E":0.6104,"F":0.564,"G":0.6835,"H":0.36},
{"g":"quiescent","r":19.5,"A":0.767,"B":0.687,"C":0.7314,"D":0.7076,"E":0.6432,"F":0.6123,"G":0.7102,"H":0.501},
{"g":"quiescent","r":21.5,"A":0.7037,"B":0.7147,"C":0.7435,"D":0.6843,"E":0.6519,"F":0.6557,"G":0.6999,"H":0.323},
{"g":"quiescent","r":22.5,"A":0.7343,"B":0.6649,"C":0.7262,"D":0.6997,"E":0.6352,"F":0.5979,"G":0.7232,"H":0.392},
{"g":"quiescent","r":24.5,"A":0.693,"B":0.6913,"C":0.748,"D":0.7174,"E":0.6608,"F":0.6231,"G":0.6752,"H":0.291},
{"g":"quiescent","r":25.5,"A":0.7263,"B":0.7273,"C":0.7326,"D":0.6749,"E":0.6152,"F":0.5859,"G":0.7044,"H":0.416},
{"g":"quiescent","r":27.5,"A":0.712,"B":0.6842,"C":0.7508,"D":0.696,"E":0.6454,"F":0.617,"G":0.7333,"H":0.331},
{"g":"quiescent","r":28.5,"A":0.7438,"B":0.7,"C":0.7203,"D":0.7034,"E":0.673,"F":0.6051,"G":0.6969,"H":0.434},
{"g":"quiescent","r":30.5,"A":0.6848,"B":0.6777,"C":0.7412,"D":0.6898,"E":0.6365,"F":0.6318,"G":0.7116,"H":0.252},
{"g":"quiescent","r":31.5,"A":0.7182,"B":0.7071,"C":0.763,"D":0.7107,"E":0.653,"F":0.5763,"G":0.6899,"H":0.38},
{"g":"quiescent","r":33.5,"A":0.756,"B":0.6856,"C":0.7079,"D":0.6778,"E":0.629,"F":0.6105,"G":0.7171,"H":0.524},
{"g":"quiescent","r":34.5,"A":0.7078,"B":0.7117,"C":0.7363,"D":0.6977,"E":0.6487,"F":0.6444,"G":0.6984,"H":0.17},
{"g":"quiescent","r":36.5,"A":0.7283,"B":0.6687,"C":0.7457,"D":0.7203,"E":0.641,"F":0.6015,"G":0.7208,"H":0.352},
{"g":"quiescent","r":37.5,"A":0.6991,"B":0.6965,"C":0.7276,"D":0.6907,"E":0.6586,"F":0.6185,"G":0.6795,"H":0.404},
{"g":"quiescent","r":39.5,"A":0.7362,"B":0.7325,"C":0.7547,"D":0.7044,"E":0.623,"F":0.5932,"G":0.7088,"H":0.301}
]
},
"config":{
"font":"Liberation Sans",
"view":{"stroke":"#333333","strokeWidth":2.8},
"range":{"category":["#84A826","#4EC4C7","#F5766E","#B080DA"]},
"legend":{"disable":true},
"axis":{"grid":false,"domain":false,"tickColor":"#333333","tickWidth":2.6,"tickSize":8,"labelColor":"black","titleColor":"black","titleFontWeight":"normal","labelFontWeight":"normal"},
"axisX":{"labelAngle":-45,"labelAlign":"right","labelBaseline":"top","labelFontSize":23,"labelPadding":4},
"axisY":{"labelFontSize":23.5,"labelPadding":3,"titleFontSize":25,"titlePadding":7},
"title":{"fontSize":40,"fontWeight":"bold","anchor":"start","frame":"group","color":"black"}
},
"columns":4,
"spacing":{"row":-14,"column":60},
"align":"none",
"bounds":"full",
"concat":[
{"width":337,"height":439,"title":{"text":"A","dx":-73,"offset":10},
"encoding":{"x":{"field":"g","type":"nominal","sort":["mixed","cholesterogenic","glycolytic","quiescent"],"scale":{"paddingInner":0.5,"paddingOuter":0.35},"title":null}},
"layer":[
{"data":{"name":"b"},"transform":[{"filter":"datum.p=='A'"}],"mark":{"type":"rule","strokeWidth":2.7},"encoding":{"y":{"field":"lo","type":"quantitative","scale":{"domain":[0.6538,0.8111],"nice":false,"zero":false},"title":"DNA replication","axis":{"values":[0.7,0.75,0.8],"format":".2f"}},"y2":{"field":"hi"},"color":{"field":"g","type":"nominal"}}},
{"data":{"name":"b"},"transform":[{"filter":"datum.p=='A'"}],"mark":{"type":"bar","fill":"white","strokeWidth":2.7},"encoding":{"y":{"field":"q1","type":"quantitative","scale":{"domain":[0.6538,0.8111],"nice":false,"zero":false},"title":"DNA replication","axis":{"values":[0.7,0.75,0.8],"format":".2f"}},"y2":{"field":"q3"},"stroke":{"field":"g","type":"nominal"}}},
{"data":{"name":"b"},"transform":[{"filter":"datum.p=='A'"}],"mark":{"type":"bar","fill":"white","strokeWidth":2.7},"encoding":{"y":{"field":"med","type":"quantitative","scale":{"domain":[0.6538,0.8111],"nice":false,"zero":false},"title":"DNA replication","axis":{"values":[0.7,0.75,0.8],"format":".2f"}},"y2":{"field":"med"},"stroke":{"field":"g","type":"nominal"}}},
{"data":{"name":"s"},"mark":{"type":"circle","size":30,"opacity":1},"encoding":{"y":{"field":"A","type":"quantitative","scale":{"domain":[0.6538,0.8111],"nice":false,"zero":false},"title":"DNA replication","axis":{"values":[0.7,0.75,0.8],"format":".2f"}},"xOffset":{"field":"r","type":"nominal","scale":{"range":[10,30]}},"color":{"field":"g","type":"nominal"}}},
{"data":{"values":[{"t":"Anova, p <2.2e−16"}]},"mark":{"type":"text","align":"left","baseline":"top","fontSize":24.5,"dx":13,"dy":9,"color":"black"},"encoding":{"x":{"value":0},"y":{"value":0},"text":{"field":"t","type":"nominal"}}}
]},
{"width":348,"height":442,"title":{"text":"B","dx":-65,"offset":3},
"encoding":{"x":{"field":"g","type":"nominal","sort":["mixed","cholesterogenic","glycolytic","quiescent"],"scale":{"paddingInner":0.5,"paddingOuter":0.35},"title":null}},
"layer":[
{"data":{"name":"b"},"transform":[{"filter":"datum.p=='B'"}],"mark":{"type":"rule","strokeWidth":2.7},"encoding":{"y":{"field":"lo","type":"quantitative","scale":{"domain":[0.6154,0.7891],"nice":false,"zero":false},"title":"Mismatch repair","axis":{"values":[0.65,0.7,0.75],"format":".2f"}},"y2":{"field":"hi"},"color":{"field":"g","type":"nominal"}}},
{"data":{"name":"b"},"transform":[{"filter":"datum.p=='B'"}],"mark":{"type":"bar","fill":"white","strokeWidth":2.7},"encoding":{"y":{"field":"q1","type":"quantitative","scale":{"domain":[0.6154,0.7891],"nice":false,"zero":false},"title":"Mismatch repair","axis":{"values":[0.65,0.7,0.75],"format":".2f"}},"y2":{"field":"q3"},"stroke":{"field":"g","type":"nominal"}}},
{"data":{"name":"b"},"transform":[{"filter":"datum.p=='B'"}],"mark":{"type":"bar","fill":"white","strokeWidth":2.7},"encoding":{"y":{"field":"med","type":"quantitative","scale":{"domain":[0.6154,0.7891],"nice":false,"zero":false},"title":"Mismatch repair","axis":{"values":[0.65,0.7,0.75],"format":".2f"}},"y2":{"field":"med"},"stroke":{"field":"g","type":"nominal"}}},
{"data":{"name":"s"},"mark":{"type":"circle","size":30,"opacity":1},"encoding":{"y":{"field":"B","type":"quantitative","scale":{"domain":[0.6154,0.7891],"nice":false,"zero":false},"title":"Mismatch repair","axis":{"values":[0.65,0.7,0.75],"format":".2f"}},"xOffset":{"field":"r","type":"nominal","scale":{"range":[10,30]}},"color":{"field":"g","type":"nominal"}}},
{"data":{"values":[{"t":"Anova, p < 2.2e−16"}]},"mark":{"type":"text","align":"left","baseline":"top","fontSize":24.5,"dx":20,"dy":7,"color":"black"},"encoding":{"x":{"value":0},"y":{"value":0},"text":{"field":"t","type":"nominal"}}}
]},
{"width":340,"height":446,"title":{"text":"C","dx":-120,"offset":7},
"encoding":{"x":{"field":"g","type":"nominal","sort":["mixed","cholesterogenic","glycolytic","quiescent"],"scale":{"paddingInner":0.5,"paddingOuter":0.35},"title":null}},
"layer":[
{"data":{"name":"b"},"transform":[{"filter":"datum.p=='C'"}],"mark":{"type":"rule","strokeWidth":2.7},"encoding":{"y":{"field":"lo","type":"quantitative","scale":{"domain":[0.7016,0.7891],"nice":false,"zero":false},"title":"Base excision repair","axis":{"values":[0.72,0.74,0.76,0.78],"format":".2f"}},"y2":{"field":"hi"},"color":{"field":"g","type":"nominal"}}},
{"data":{"name":"b"},"transform":[{"filter":"datum.p=='C'"}],"mark":{"type":"bar","fill":"white","strokeWidth":2.7},"encoding":{"y":{"field":"q1","type":"quantitative","scale":{"domain":[0.7016,0.7891],"nice":false,"zero":false},"title":"Base excision repair","axis":{"values":[0.72,0.74,0.76,0.78],"format":".2f"}},"y2":{"field":"q3"},"stroke":{"field":"g","type":"nominal"}}},
{"data":{"name":"b"},"transform":[{"filter":"datum.p=='C'"}],"mark":{"type":"bar","fill":"white","strokeWidth":2.7},"encoding":{"y":{"field":"med","type":"quantitative","scale":{"domain":[0.7016,0.7891],"nice":false,"zero":false},"title":"Base excision repair","axis":{"values":[0.72,0.74,0.76,0.78],"format":".2f"}},"y2":{"field":"med"},"stroke":{"field":"g","type":"nominal"}}},
{"data":{"name":"s"},"mark":{"type":"circle","size":30,"opacity":1},"encoding":{"y":{"field":"C","type":"quantitative","scale":{"domain":[0.7016,0.7891],"nice":false,"zero":false},"title":"Base excision repair","axis":{"values":[0.72,0.74,0.76,0.78],"format":".2f"}},"xOffset":{"field":"r","type":"nominal","scale":{"range":[10,30]}},"color":{"field":"g","type":"nominal"}}},
{"data":{"values":[{"t":"Anova, p = 1.3e−05"}]},"mark":{"type":"text","align":"left","baseline":"top","fontSize":24.5,"dx":13,"dy":5,"color":"black"},"encoding":{"x":{"value":0},"y":{"value":0},"text":{"field":"t","type":"nominal"}}}
]},
{"width":338,"height":438,"title":{"text":"D","dx":-64,"offset":5},
"encoding":{"x":{"field":"g","type":"nominal","sort":["mixed","cholesterogenic","glycolytic","quiescent"],"scale":{"paddingInner":0.5,"paddingOuter":0.35},"title":null}},
"layer":[
{"data":{"name":"b"},"transform":[{"filter":"datum.p=='D'"}],"mark":{"type":"rule","strokeWidth":2.7},"encoding":{"y":{"field":"lo","type":"quantitative","scale":{"domain":[0.644,0.7626],"nice":false,"zero":false},"title":"Nucleotide excision repair","axis":{"values":[0.68,0.72,0.76],"format":".2f"}},"y2":{"field":"hi"},"color":{"field":"g","type":"nominal"}}},
{"data":{"name":"b"},"transform":[{"filter":"datum.p=='D'"}],"mark":{"type":"bar","fill":"white","strokeWidth":2.7},"encoding":{"y":{"field":"q1","type":"quantitative","scale":{"domain":[0.644,0.7626],"nice":false,"zero":false},"title":"Nucleotide excision repair","axis":{"values":[0.68,0.72,0.76],"format":".2f"}},"y2":{"field":"q3"},"stroke":{"field":"g","type":"nominal"}}},
{"data":{"name":"b"},"transform":[{"filter":"datum.p=='D'"}],"mark":{"type":"bar","fill":"white","strokeWidth":2.7},"encoding":{"y":{"field":"med","type":"quantitative","scale":{"domain":[0.644,0.7626],"nice":false,"zero":false},"title":"Nucleotide excision repair","axis":{"values":[0.68,0.72,0.76],"format":".2f"}},"y2":{"field":"med"},"stroke":{"field":"g","type":"nominal"}}},
{"data":{"name":"s"},"mark":{"type":"circle","size":30,"opacity":1},"encoding":{"y":{"field":"D","type":"quantitative","scale":{"domain":[0.644,0.7626],"nice":false,"zero":false},"title":"Nucleotide excision repair","axis":{"values":[0.68,0.72,0.76],"format":".2f"}},"xOffset":{"field":"r","type":"nominal","scale":{"range":[10,30]}},"color":{"field":"g","type":"nominal"}}},
{"data":{"values":[{"t":"Anova, p < 2.2e−16"}]},"mark":{"type":"text","align":"left","baseline":"top","fontSize":24.5,"dx":17,"dy":5,"color":"black"},"encoding":{"x":{"value":0},"y":{"value":0},"text":{"field":"t","type":"nominal"}}}
]},
{"width":337,"height":440,"title":{"text":"E","dx":-69,"offset":-1},
"encoding":{"x":{"field":"g","type":"nominal","sort":["mixed","cholesterogenic","glycolytic","quiescent"],"scale":{"paddingInner":0.5,"paddingOuter":0.35},"title":null}},
"layer":[
{"data":{"name":"b"},"transform":[{"filter":"datum.p=='E'"}],"mark":{"type":"rule","strokeWidth":2.7},"encoding":{"y":{"field":"lo","type":"quantitative","scale":{"domain":[0.5977,0.712],"nice":false,"zero":false},"title":"DNA damage repair","axis":{"values":[0.6,0.63,0.66,0.69],"format":".2f"}},"y2":{"field":"hi"},"color":{"field":"g","type":"nominal"}}},
{"data":{"name":"b"},"transform":[{"filter":"datum.p=='E'"}],"mark":{"type":"bar","fill":"white","strokeWidth":2.7},"encoding":{"y":{"field":"q1","type":"quantitative","scale":{"domain":[0.5977,0.712],"nice":false,"zero":false},"title":"DNA damage repair","axis":{"values":[0.6,0.63,0.66,0.69],"format":".2f"}},"y2":{"field":"q3"},"stroke":{"field":"g","type":"nominal"}}},
{"data":{"name":"b"},"transform":[{"filter":"datum.p=='E'"}],"mark":{"type":"bar","fill":"white","strokeWidth":2.7},"encoding":{"y":{"field":"med","type":"quantitative","scale":{"domain":[0.5977,0.712],"nice":false,"zero":false},"title":"DNA damage repair","axis":{"values":[0.6,0.63,0.66,0.69],"format":".2f"}},"y2":{"field":"med"},"stroke":{"field":"g","type":"nominal"}}},
{"data":{"name":"s"},"mark":{"type":"circle","size":30,"opacity":1},"encoding":{"y":{"field":"E","type":"quantitative","scale":{"domain":[0.5977,0.712],"nice":false,"zero":false},"title":"DNA damage repair","axis":{"values":[0.6,0.63,0.66,0.69],"format":".2f"}},"xOffset":{"field":"r","type":"nominal","scale":{"range":[10,30]}},"color":{"field":"g","type":"nominal"}}},
{"data":{"values":[{"t":"Anova, p < 2.2e−16"}]},"mark":{"type":"text","align":"left","baseline":"top","fontSize":24.5,"dx":13,"dy":4,"color":"black"},"encoding":{"x":{"value":0},"y":{"value":0},"text":{"field":"t","type":"nominal"}}}
]},
{"width":344,"height":442,"title":{"text":"F","dx":-57,"offset":5},
"encoding":{"x":{"field":"g","type":"nominal","sort":["mixed","cholesterogenic","glycolytic","quiescent"],"scale":{"paddingInner":0.5,"paddingOuter":0.35},"title":null}},
"layer":[
{"data":{"name":"b"},"transform":[{"filter":"datum.p=='F'"}],"mark":{"type":"rule","strokeWidth":2.7},"encoding":{"y":{"field":"lo","type":"quantitative","scale":{"domain":[0.5169,0.7074],"nice":false,"zero":false},"title":"Homologous recombination","axis":{"values":[0.55,0.6,0.65,0.7],"format":".2f","labelColor":"#4d4d4d"}},"y2":{"field":"hi"},"color":{"field":"g","type":"nominal"}}},
{"data":{"name":"b"},"transform":[{"filter":"datum.p=='F'"}],"mark":{"type":"bar","fill":"white","strokeWidth":2.7},"encoding":{"y":{"field":"q1","type":"quantitative","scale":{"domain":[0.5169,0.7074],"nice":false,"zero":false},"title":"Homologous recombination","axis":{"values":[0.55,0.6,0.65,0.7],"format":".2f","labelColor":"#4d4d4d"}},"y2":{"field":"q3"},"stroke":{"field":"g","type":"nominal"}}},
{"data":{"name":"b"},"transform":[{"filter":"datum.p=='F'"}],"mark":{"type":"bar","fill":"white","strokeWidth":2.7},"encoding":{"y":{"field":"med","type":"quantitative","scale":{"domain":[0.5169,0.7074],"nice":false,"zero":false},"title":"Homologous recombination","axis":{"values":[0.55,0.6,0.65,0.7],"format":".2f","labelColor":"#4d4d4d"}},"y2":{"field":"med"},"stroke":{"field":"g","type":"nominal"}}},
{"data":{"name":"s"},"mark":{"type":"circle","size":30,"opacity":1},"encoding":{"y":{"field":"F","type":"quantitative","scale":{"domain":[0.5169,0.7074],"nice":false,"zero":false},"title":"Homologous recombination","axis":{"values":[0.55,0.6,0.65,0.7],"format":".2f","labelColor":"#4d4d4d"}},"xOffset":{"field":"r","type":"nominal","scale":{"range":[10,30]}},"color":{"field":"g","type":"nominal"}}},
{"data":{"values":[{"t":"Anova, p = 6.1e−16"}]},"mark":{"type":"text","align":"left","baseline":"top","fontSize":24.5,"dx":14,"dy":4,"color":"black"},"encoding":{"x":{"value":0},"y":{"value":0},"text":{"field":"t","type":"nominal"}}}
]},
{"width":336,"height":439,"title":{"text":"G","dx":-125,"offset":7},
"encoding":{"x":{"field":"g","type":"nominal","sort":["mixed","cholesterogenic","glycolytic","quiescent"],"scale":{"paddingInner":0.5,"paddingOuter":0.35},"title":null}},
"layer":[
{"data":{"name":"b"},"transform":[{"filter":"datum.p=='G'"}],"mark":{"type":"rule","strokeWidth":2.7},"encoding":{"y":{"field":"lo","type":"quantitative","scale":{"domain":[0.6492,0.7687],"nice":false,"zero":false},"title":"Cell cycle","axis":{"values":[0.65,0.675,0.7,0.725,0.75],"format":".3f"}},"y2":{"field":"hi"},"color":{"field":"g","type":"nominal"}}},
{"data":{"name":"b"},"transform":[{"filter":"datum.p=='G'"}],"mark":{"type":"bar","fill":"white","strokeWidth":2.7},"encoding":{"y":{"field":"q1","type":"quantitative","scale":{"domain":[0.6492,0.7687],"nice":false,"zero":false},"title":"Cell cycle","axis":{"values":[0.65,0.675,0.7,0.725,0.75],"format":".3f"}},"y2":{"field":"q3"},"stroke":{"field":"g","type":"nominal"}}},
{"data":{"name":"b"},"transform":[{"filter":"datum.p=='G'"}],"mark":{"type":"bar","fill":"white","strokeWidth":2.7},"encoding":{"y":{"field":"med","type":"quantitative","scale":{"domain":[0.6492,0.7687],"nice":false,"zero":false},"title":"Cell cycle","axis":{"values":[0.65,0.675,0.7,0.725,0.75],"format":".3f"}},"y2":{"field":"med"},"stroke":{"field":"g","type":"nominal"}}},
{"data":{"name":"s"},"mark":{"type":"circle","size":30,"opacity":1},"encoding":{"y":{"field":"G","type":"quantitative","scale":{"domain":[0.6492,0.7687],"nice":false,"zero":false},"title":"Cell cycle","axis":{"values":[0.65,0.675,0.7,0.725,0.75],"format":".3f"}},"xOffset":{"field":"r","type":"nominal","scale":{"range":[10,30]}},"color":{"field":"g","type":"nominal"}}},
{"data":{"values":[{"t":"Anova, p < 2.2e−16"}]},"mark":{"type":"text","align":"left","baseline":"top","fontSize":24.5,"dx":12,"dy":4,"color":"black"},"encoding":{"x":{"value":0},"y":{"value":0},"text":{"field":"t","type":"nominal"}}}
]},
{"width":342,"height":435,"title":{"text":"H","dx":-61,"offset":9},
"encoding":{"x":{"field":"g","type":"nominal","sort":["mixed","cholesterogenic","glycolytic","quiescent"],"scale":{"paddingInner":0.5,"paddingOuter":0.35},"title":null}},
"layer":[
{"data":{"name":"b"},"transform":[{"filter":"datum.p=='H'"}],"mark":{"type":"rule","strokeWidth":2.7},"encoding":{"y":{"field":"lo","type":"quantitative","scale":{"domain":[0.0278,0.681],"nice":false,"zero":false},"title":"RNA stemness score","axis":{"values":[0.2,0.4,0.6],"format":".1f"}},"y2":{"field":"hi"},"color":{"field":"g","type":"nominal"}}},
{"data":{"name":"b"},"transform":[{"filter":"datum.p=='H'"}],"mark":{"type":"bar","fill":"white","strokeWidth":2.7},"encoding":{"y":{"field":"q1","type":"quantitative","scale":{"domain":[0.0278,0.681],"nice":false,"zero":false},"title":"RNA stemness score","axis":{"values":[0.2,0.4,0.6],"format":".1f"}},"y2":{"field":"q3"},"stroke":{"field":"g","type":"nominal"}}},
{"data":{"name":"b"},"transform":[{"filter":"datum.p=='H'"}],"mark":{"type":"bar","fill":"white","strokeWidth":2.7},"encoding":{"y":{"field":"med","type":"quantitative","scale":{"domain":[0.0278,0.681],"nice":false,"zero":false},"title":"RNA stemness score","axis":{"values":[0.2,0.4,0.6],"format":".1f"}},"y2":{"field":"med"},"stroke":{"field":"g","type":"nominal"}}},
{"data":{"name":"s"},"mark":{"type":"circle","size":30,"opacity":1},"encoding":{"y":{"field":"H","type":"quantitative","scale":{"domain":[0.0278,0.681],"nice":false,"zero":false},"title":"RNA stemness score","axis":{"values":[0.2,0.4,0.6],"format":".1f"}},"xOffset":{"field":"r","type":"nominal","scale":{"range":[10,30]}},"color":{"field":"g","type":"nominal"}}},
{"data":{"values":[{"t":"Anova, p = 9.9e−09"}]},"mark":{"type":"text","align":"left","baseline":"top","fontSize":24.5,"dx":14,"dy":4,"color":"black"},"encoding":{"x":{"value":0},"y":{"value":0},"text":{"field":"t","type":"nominal"}}}
]}
]
}
